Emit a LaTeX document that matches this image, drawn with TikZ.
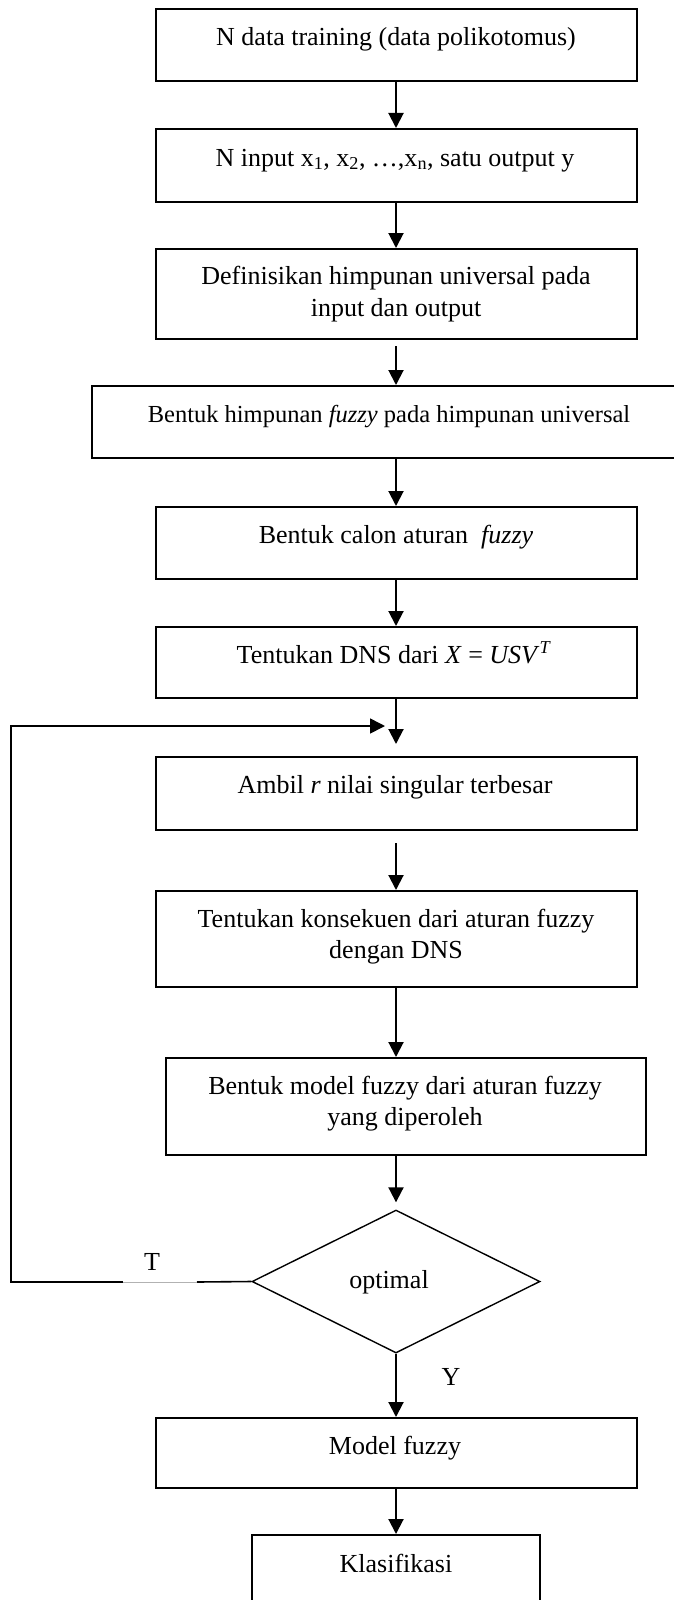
\documentclass[tikz,border=0pt]{standalone}
\usepackage{fontspec}
\setmainfont{Liberation Serif}
\usetikzlibrary{arrows.meta,shapes.geometric}
\newcommand\fsz{\fontsize{26}{31}\selectfont}
\newcommand\fszs{\fontsize{24.5}{30}\selectfont}
\begin{document}
\begin{tikzpicture}[x=1pt,y=-1pt,
  box/.style={draw, line width=2pt, inner sep=0pt, minimum width=481pt},
  dbox/.style={draw, line width=1.4pt, diamond, aspect=2, inner sep=0pt, minimum width=288pt, minimum height=143pt},
  txt/.style={anchor=base, inner sep=0pt, font=\fsz},
  arr/.style={line width=2pt, -{Triangle[length=15pt,width=15pt]}},
  loopl/.style={line width=1.6pt},
  grayl/.style={line width=0.9pt, draw=black!30}]
\useasboundingbox (0,0) rectangle (674,1600);
\clip (0,0) rectangle (674,1600);
\fill[white] (0,0) rectangle (674,1600);
% boxes
\node[box, minimum height=72pt] (b1) at (396,45) {};
\node[box, minimum height=73pt] (b2) at (396,165.5) {};
\node[box, minimum height=90pt] (b3) at (396,294) {};
\node[box, minimum height=72pt, minimum width=608pt] (b4) at (396,422) {};
\node[box, minimum height=72pt] (b5) at (396,543) {};
\node[box, minimum height=71pt] (b6) at (396,662.5) {};
\node[box, minimum height=73pt] (b7) at (396,793.5) {};
\node[box, minimum height=96pt] (b8) at (396,939) {};
\node[box, minimum height=97pt, minimum width=480.5pt] (b9) at (406,1106.5) {};
\node[dbox] (dia) at (396,1281.5) {};
\node[box, minimum height=70pt] (b10) at (396,1453) {};
\node[box, minimum height=76pt, minimum width=288pt] (b11) at (396,1573) {};
% texts
\node[txt] (t1) at (396,46) {N data training (data polikotomus)};
\node[txt] (t2) at (395,166) {N input x\textsubscript{1}, x\textsubscript{2}, \dots,x\textsubscript{n}, satu output y};
\node[txt] (t3a) at (396,284.5) {Definisikan himpunan universal pada};
\node[txt] (t3b) at (396,316) {input dan output};
\node[txt, font=\fszs] (t4) at (389,422) {Bentuk himpunan \textit{fuzzy} pada himpunan universal};
\node[txt] (t5) at (396,543) {Bentuk calon aturan \ \textit{fuzzy}};
\node[txt] (t6) at (394,663) {Tentukan DNS dari \textit{X} = \textit{USV}\textsuperscript{\textit{T}}};
\node[txt] (t7) at (395,793) {Ambil \textit{r} nilai singular terbesar};
\node[txt] (t8a) at (396,927) {Tentukan konsekuen dari aturan fuzzy};
\node[txt] (t8b) at (396,958) {dengan DNS};
\node[txt] (t9a) at (405,1094) {Bentuk model fuzzy dari aturan fuzzy};
\node[txt] (t9b) at (405,1125) {yang diperoleh};
\node[txt] (topt) at (389,1288) {optimal};
\node[txt] (tT) at (152,1270) {T};
\node[txt] (tY) at (451,1385) {Y};
\node[txt] (t10) at (395,1454) {Model fuzzy};
\node[txt] (t11) at (396,1572) {Klasifikasi};
% connectors
\draw[arr] (b1.south) -- (b2.north);
\draw[arr] (b2.south) -- (b3.north);
\draw[arr] ([yshift=-6pt]b3.south) -- (b4.north);
\draw[arr] (b4.south) -- (b5.north);
\draw[arr] (b5.south) -- (b6.north);
\draw[arr] (b6.south) -- ([yshift=12pt]b7.north);
\draw[arr] ([yshift=-12pt]b7.south) -- (b8.north);
\draw[arr] (b8.south) -- (b8.south |- b9.north);
\draw[arr] (dia.north |- b9.south) -- ([yshift=7pt]dia.north);
\draw[arr] (dia.south) -- (b10.north);
\draw[arr] (b10.south) -- (b11.north);
% loop back
\coordinate (g1) at (197,1282);
\coordinate (g2) at (123,1282);
\coordinate (lc1) at (11,1282);
\coordinate (lc2) at (11,726);
\coordinate (lend) at (385,726);
\draw[loopl] (dia.west) -- (g1);
\draw[grayl] (g1) -- (g2);
\draw[loopl, -{Triangle[length=15pt,width=15pt]}] (g2) -- (lc1) -- (lc2) -- (lend);
\end{tikzpicture}
\end{document}
